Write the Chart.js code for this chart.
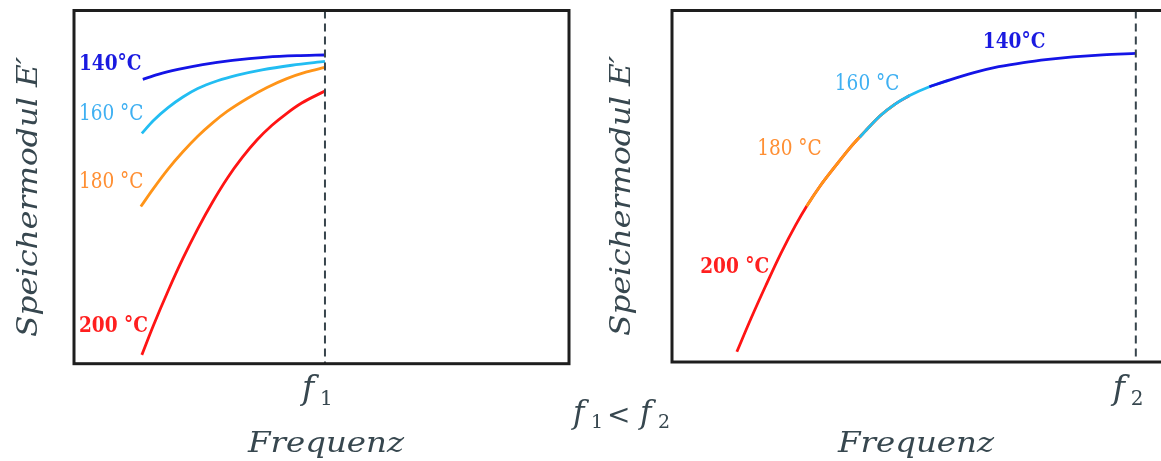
<!DOCTYPE html>
<html>
<head>
<meta charset="utf-8">
<script src="https://cdn.jsdelivr.net/npm/chart.js@4.4.0/dist/chart.umd.min.js"></script>
<style>
  html, body { margin: 0; padding: 0; background: #fff; overflow: hidden; width: 1161px; height: 461px; }
  canvas { position: absolute; top: 0; }
  #left { left: 0; }
  #right { left: 600px; }
</style>
</head>
<body>
<canvas id="left" width="700" height="461"></canvas>
<canvas id="right" width="600" height="461"></canvas>
<script>
// ---- temperatures and marker frequencies ----
const temps = ['140°C', '160 °C', '180 °C', '200 °C'];
const f1 = 50.7;
const f2 = 93.7;

// ---- left panel: storage modulus curves ending at f1 ----
const fq140 = [13.9, 17, 21, 26, 32, 39, 45, 50.7];
const E140  = [80.5, 81.9, 83.3, 84.7, 85.9, 86.8, 87.2, 87.4];
const fq160 = [13.7, 16, 19, 22, 25, 29, 33, 38, 44, 50.7];
const E160  = [65.2, 68.8, 72.5, 75.5, 77.9, 80.1, 81.7, 83.2, 84.5, 85.6];
const fq180 = [13.5, 16, 19, 22, 25, 28, 31, 35, 39, 43, 47, 50.7];
const E180  = [44.5, 49.5, 55.1, 60.0, 64.4, 68.2, 71.5, 75.1, 78.2, 80.7, 82.6, 83.9];
const fq200 = [13.7, 16, 19, 22, 25, 28, 31, 34, 37, 40, 43, 46, 50.7];
const E200  = [2.5, 10.7, 20.6, 29.8, 38.2, 45.8, 52.6, 58.4, 63.4, 67.5, 70.9, 73.8, 77.2];

// ---- right panel: shifted curves forming one master curve up to f2 ----
const mq200 = [13.1, 16, 19, 22, 25, 27.2, 30, 33, 36, 39, 42, 45, 48];
const mE200 = [2.9, 12.5, 21.9, 30.9, 39.0, 44.3, 50.2, 55.7, 61.0, 65.6, 70.0, 73.3, 75.8];
const mq180 = [27.2, 30, 33, 36, 39, 42, 45];
const mE180 = [44.3, 50.2, 55.7, 61.0, 65.6, 70.0, 73.3];
const mq160 = [37.9, 39, 42, 45, 48, 52, 56];
const mE160 = [63.9, 65.6, 70.0, 73.3, 75.8, 78.3, 80.2];
const mq140 = [52, 56, 61, 66, 71, 76, 81, 87, 93.7];
const mE140 = [78.3, 80.2, 82.3, 84.0, 85.2, 86.1, 86.8, 87.4, 87.8];

const lineColors  = ['#1414e6', '#22bdf2', '#ff9418', '#ff1414'];
const labelColors = ['#1a1ae0', '#3fb0f2', '#ff8f33', '#ff1f1f'];
const labelWeights = ['bold', 'normal', 'normal', 'bold'];
const inkColor = '#37474f';

const pts = (xs, ys) => xs.map((v, i) => ({ x: v, y: ys[i] }));

function curve(xs, ys, k) {
  return {
    data: pts(xs, ys),
    borderColor: lineColors[k],
    borderWidth: 2.8,
    pointRadius: 0,
    cubicInterpolationMode: 'monotone',
    fill: false
  };
}

function marker(f) {
  return {
    data: [{ x: f, y: 100 }, { x: f, y: 0 }],
    borderColor: '#37444c',
    borderWidth: 2,
    borderDash: [8, 5],
    pointRadius: 0,
    tension: 0,
    fill: false
  };
}

// horizontally fitted text (used for axis captions)
function fitText(ctx, text, cx, cy, width, rot, baseline) {
  ctx.save();
  ctx.translate(cx, cy);
  ctx.rotate(rot);
  const w = ctx.measureText(text).width;
  ctx.scale(width / w, 1);
  ctx.textAlign = 'center';
  ctx.textBaseline = baseline;
  ctx.fillText(text, 0, 0);
  ctx.restore();
}

// italic "f" followed by an upright subscript digit
function drawFreq(ctx, x, base, digit, fSize, dSize, gap, drop) {
  ctx.textAlign = 'left';
  ctx.textBaseline = 'alphabetic';
  ctx.font = `italic ${fSize}px "DejaVu Serif"`;
  ctx.fillText('f', x, base);
  ctx.font = `${dSize}px "DejaVu Serif"`;
  ctx.fillText(digit, x + gap, base + drop);
}

const panelDecor = {
  id: 'panelDecor',
  afterDraw(chart, args, o) {
    const { ctx, chartArea: a, scales: { x, y } } = chart;
    ctx.save();
    // frame
    ctx.strokeStyle = '#1e1e1e';
    ctx.lineWidth = 3;
    ctx.strokeRect(a.left, a.top, a.right - a.left, a.bottom - a.top);

    // temperature labels (slightly condensed slab serif)
    o.labels.forEach((l, k) => {
      ctx.save();
      ctx.translate(x.getPixelForValue(l[0]), y.getPixelForValue(l[1]));
      ctx.scale(0.86, 1);
      ctx.textAlign = 'left';
      ctx.textBaseline = 'alphabetic';
      ctx.font = `${labelWeights[k]} 21.5px "DejaVu Serif"`;
      ctx.fillStyle = labelColors[k];
      ctx.fillText(temps[k], 0, 0);
      ctx.restore();
    });

    ctx.fillStyle = inkColor;
    // y caption
    ctx.font = 'italic 27px "DejaVu Serif"';
    fitText(ctx, 'Speichermodul E\u2032', o.yCap[0], o.yCap[1], 280, -Math.PI / 2, 'middle');
    // x caption
    ctx.font = 'italic 28px "DejaVu Serif"';
    fitText(ctx, 'Frequenz', o.xCap[0], o.xCap[1], 156, 0, 'alphabetic');

    // marker frequency label under the dashed line
    const px = x.getPixelForValue(o.freq);
    drawFreq(ctx, px - 23, 399, o.digit, 33, 20, 18, 6);

    // relation between the two frequencies
    if (o.relation) {
      const r = o.relation;
      drawFreq(ctx, r[0], r[1], '1', 31, 19, 18, 5);
      ctx.font = '28px "DejaVu Serif"';
      ctx.textBaseline = 'middle';
      ctx.fillText('<', r[0] + 34, r[1] - 6);
      drawFreq(ctx, r[0] + 67, r[1], '2', 31, 19, 18, 5);
    }
    ctx.restore();
  }
};

function makeChart(id, datasets, pad, decor) {
  return new Chart(document.getElementById(id), {
    type: 'line',
    data: { datasets },
    options: {
      responsive: false,
      animation: false,
      events: [],
      layout: { padding: pad },
      scales: {
        x: { type: 'linear', min: 0, max: 100, display: false },
        y: { type: 'linear', min: 0, max: 100, display: false }
      },
      plugins: {
        legend: { display: false },
        tooltip: { enabled: false },
        panelDecor: decor
      }
    },
    plugins: [panelDecor]
  });
}

makeChart('left', [
  marker(f1),
  curve(fq140, E140, 0),
  curve(fq160, E160, 1),
  curve(fq180, E180, 2),
  curve(fq200, E200, 3)
], { left: 74, right: 131, top: 10.5, bottom: 97.3 }, {
  labels: [[1.0, 83.2], [1.0, 69.0], [1.0, 49.7], [1.0, 9.0]],
  yCap: [30, 197],
  xCap: [326, 452],
  freq: f1,
  digit: '1',
  relation: [573, 423]
});

makeChart('right', [
  marker(f2),
  curve(mq140, mE140, 0),
  curve(mq160, mE160, 1),
  curve(mq180, mE180, 2),
  curve(mq200, mE200, 3)
], { left: 72, right: 33, top: 10.5, bottom: 99 }, {
  labels: [[62.8, 89.3], [32.9, 77.4], [17.2, 58.9], [5.7, 25.3]],
  yCap: [22.5, 196],
  xCap: [316, 452],
  freq: f2,
  digit: '2',
  relation: null
});
</script>
</body>
</html>
